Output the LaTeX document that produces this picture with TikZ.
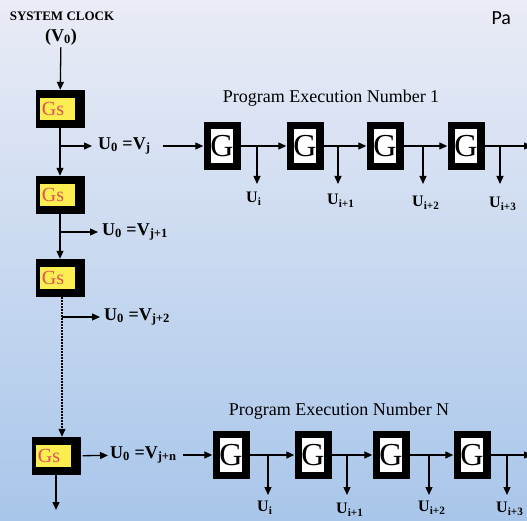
\documentclass[tikz,border=0pt]{standalone}
\usepackage{fontspec}
\setmainfont{Liberation Serif}
\newfontfamily\pafont{Carlito}
\usetikzlibrary{arrows.meta, positioning}
\definecolor{gsyellow}{RGB}{250,238,80}
\definecolor{gsred}{RGB}{228,78,88}
\definecolor{bgtop}{RGB}{234,236,246}
\definecolor{bgmid}{RGB}{206,219,241}
\definecolor{bgbot}{RGB}{168,198,234}

\begin{document}
\begin{tikzpicture}[x=1pt, y=-1pt,
    arr/.style={-{Triangle[length=8pt,width=7pt]}, line width=1.3pt},
    gsbox/.style={fill=black, minimum width=49pt, minimum height=38pt, inner sep=0pt, text=gsred,
      font=\fontsize{20}{20}\selectfont,
      path picture={\fill[gsyellow] ([xshift=-20pt,yshift=-11pt]path picture bounding box.center) rectangle ++(35pt,22pt);}},
    gbox/.style={fill=black, minimum width=37pt, minimum height=48pt, inner sep=0pt,
      font=\fontsize{32}{32}\selectfont,
      path picture={\fill[white] ([xshift=-11pt,yshift=-17pt]path picture bounding box.center) rectangle ++(22pt,34pt);}},
    vlab/.style={font=\bfseries\fontsize{18}{18}\selectfont, inner sep=2pt},
    ulab/.style={font=\bfseries\fontsize{16}{16}\selectfont, inner sep=2pt, anchor=north west, xshift=-13pt},
    title/.style={font=\fontsize{18}{18}\selectfont}]
  \shade[top color=bgtop, middle color=bgmid, bottom color=bgbot] (0,0) rectangle (527,521);
  \useasboundingbox (0,0) rectangle (527,521);

  % clock column
  \node[font=\bfseries\fontsize{13}{13}\selectfont] (clk) at (62,16) {SYSTEM CLOCK};
  \node[vlab] (v0) at (61,37) {(V\textsubscript{0})};
  \node[font=\pafont\fontsize{20}{20}\selectfont, anchor=west] (pa) at (488,18) {Pa};

  \node[gsbox] (gs1) at (60,109) {\hspace*{-14pt}Gs};
  \node[gsbox] (gs2) at (60,195) {\hspace*{-14pt}Gs};
  \node[gsbox] (gs3) at (60,278) {\hspace*{-14pt}Gs};
  \node[gsbox] (gs4) at (56,456) {\hspace*{-14pt}Gs};

  \node[vlab, anchor=west] (u1) at (96,146) {U\textsubscript{0} =V\textsubscript{j}};
  \node[vlab, anchor=west] (u2) at (100,232) {U\textsubscript{0} =V\textsubscript{j+1}};
  \node[vlab, anchor=west] (u3) at (102,317) {U\textsubscript{0} =V\textsubscript{j+2}};
  \node[vlab, anchor=west] (uN) at (108,455) {U\textsubscript{0} =V\textsubscript{j+n}};

  \coordinate (j1) at (60,146);
  \coordinate (j2) at (60,232);
  \coordinate (j3) at (62,317);
  \coordinate (out) at (56,510);

  \draw[arr] (v0) -- (gs1);
  \draw[arr] (gs1) -- (gs2);
  \draw[arr] (gs2) -- (gs3);
  \draw[arr, dash pattern=on 1.5pt off 1.5pt, line width=1.2pt] ([xshift=2pt]gs3.south) -- ([xshift=2pt]gs3.south |- gs4.north);
  \draw[arr] (gs4) -- (out);
  \draw[arr, shorten >=4pt] (j1) -- (u1);
  \draw[arr, shorten >=2pt] (j2) -- (u2);
  \draw[arr, shorten >=2pt] (j3) -- (u3);
  \draw[arr, shorten <=2pt] (gs4) -- (uN);

  % program execution 1
  \node[title] (pe1) at (331,98) {Program Execution Number 1};
  \foreach \n/\x/\bx/\ly/\s in {1/222/257/190/i, 2/305/338/192/i+1, 3/385/423/194/i+2, 4/466/500/195/i+3} {
    \node[gbox] (a\n) at (\x,146) {G};
    \coordinate (ab\n) at (\bx,146);
    \coordinate (ad\n) at (\bx,184);
    \draw[arr] (ab\n) -- (ad\n);
    \node[ulab] (au\n) at (\bx,\ly) {U\textsubscript{\s}};
  }
  \coordinate (aend) at (532,146);
  \foreach \n [evaluate=\n as \m using int(\n+1)] in {1,2,3}
    \draw[arr] (a\n) -- (a\m);
  \draw[arr] (a4) -- (aend);
  \draw[arr, shorten <=10pt] (u1) -- (a1);

  % program execution N
  \node[title] (peN) at (339,411) {Program Execution Number N};
  \foreach \n/\x/\bx/\ly/\s in {1/231/268/499/i, 2/313/347/501/i+1, 3/391/429/499/i+2, 4/472/507/500/i+3} {
    \node[gbox] (b\n) at (\x,455) {G};
    \coordinate (bb\n) at (\bx,455);
    \coordinate (bd\n) at (\bx,495);
    \draw[arr] (bb\n) -- (bd\n);
    \node[ulab] (bu\n) at (\bx,\ly) {U\textsubscript{\s}};
  }
  \coordinate (bend) at (532,455);
  \foreach \n [evaluate=\n as \m using int(\n+1)] in {1,2,3}
    \draw[arr] (b\n) -- (b\m);
  \draw[arr] (b4) -- (bend);
  \draw[arr, shorten <=4pt] (uN) -- (b1);
\end{tikzpicture}
\end{document}
